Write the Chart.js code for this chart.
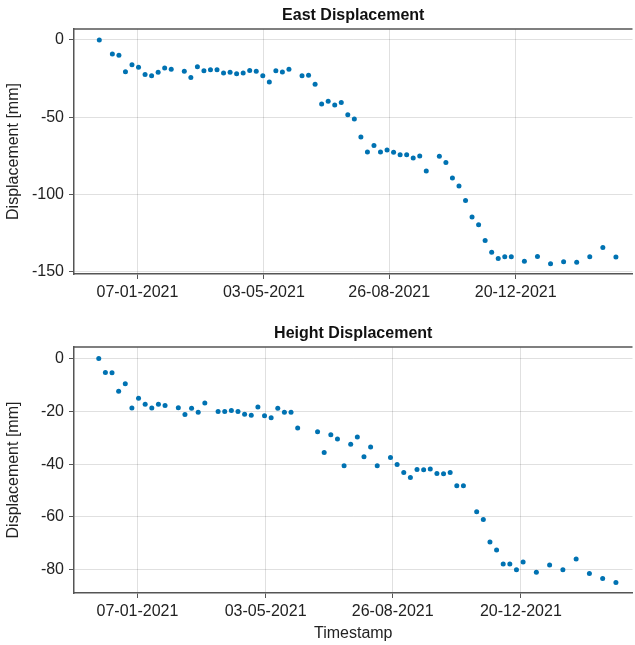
<!DOCTYPE html>
<html>
<head>
<meta charset="utf-8">
<script src="https://cdn.jsdelivr.net/npm/chart.js@4"></script>
<style>
  html, body { margin: 0; padding: 0; background: #fff; overflow: hidden; }
  .box { position: absolute; left: 0; width: 635px; }
</style>
</head>
<body>
<div class="box" style="top:0;height:320px"><canvas id="eastChart" width="635" height="320"></canvas></div>
<div class="box" style="top:320px;height:325px"><canvas id="heightChart" width="635" height="325"></canvas></div>
<script>
// Fechas de adquisición y desplazamientos (mm)
const eastDates = [
    '2020-12-03', '2020-12-15', '2020-12-21', '2020-12-27', '2021-01-02', '2021-01-08', '2021-01-14',
    '2021-01-20', '2021-01-26', '2021-02-01', '2021-02-07', '2021-02-19', '2021-02-25', '2021-03-03',
    '2021-03-09', '2021-03-15', '2021-03-21', '2021-03-27', '2021-04-02', '2021-04-08', '2021-04-14',
    '2021-04-20', '2021-04-26', '2021-05-02', '2021-05-08', '2021-05-14', '2021-05-20', '2021-05-26',
    '2021-06-07', '2021-06-13', '2021-06-19', '2021-06-25', '2021-07-01', '2021-07-07', '2021-07-13',
    '2021-07-19', '2021-07-25', '2021-07-31', '2021-08-06', '2021-08-12', '2021-08-18', '2021-08-24',
    '2021-08-30', '2021-09-05', '2021-09-11', '2021-09-17', '2021-09-23', '2021-09-29', '2021-10-11',
    '2021-10-17', '2021-10-23', '2021-10-29', '2021-11-04', '2021-11-10', '2021-11-16', '2021-11-22',
    '2021-11-28', '2021-12-04', '2021-12-10', '2021-12-16', '2021-12-28', '2022-01-09', '2022-01-21',
    '2022-02-02', '2022-02-14', '2022-02-26', '2022-03-10', '2022-03-22'
];
const eastValues = [
    0, -9.1, -9.9, -20.5, -16, -17.7, -22.4,
    -23.1, -20.9, -18.1, -19, -20.3, -24.2, -17.3,
    -19.9, -19.2, -19.2, -21.4, -20.9, -21.8, -21.4,
    -19.7, -20.3, -23.1, -27.2, -19.9, -20.7, -19,
    -23.1, -22.9, -28.7, -41.4, -39.7, -42, -40.4,
    -48.3, -51.1, -62.7, -72.4, -68.2, -72.4, -71.2,
    -72.7, -74.2, -74.2, -76.3, -75, -84.7, -75.3,
    -79.2, -89.3, -94.5, -103.8, -114.5, -119.5, -129.8,
    -137.4, -141.3, -140.2, -140.2, -143.2, -140, -144.7,
    -143.4, -143.8, -140.2, -134.2, -140.4
];

const heightDates = [
    '2020-12-03', '2020-12-09', '2020-12-15', '2020-12-21', '2020-12-27', '2021-01-02', '2021-01-08',
    '2021-01-14', '2021-01-20', '2021-01-26', '2021-02-01', '2021-02-13', '2021-02-19', '2021-02-25',
    '2021-03-03', '2021-03-09', '2021-03-21', '2021-03-27', '2021-04-02', '2021-04-08', '2021-04-14',
    '2021-04-20', '2021-04-26', '2021-05-02', '2021-05-08', '2021-05-14', '2021-05-20', '2021-05-26',
    '2021-06-01', '2021-06-19', '2021-06-25', '2021-07-01', '2021-07-07', '2021-07-13', '2021-07-19',
    '2021-07-25', '2021-07-31', '2021-08-06', '2021-08-12', '2021-08-24', '2021-08-30', '2021-09-05',
    '2021-09-11', '2021-09-17', '2021-09-23', '2021-09-29', '2021-10-05', '2021-10-11', '2021-10-17',
    '2021-10-23', '2021-10-29', '2021-11-10', '2021-11-16', '2021-11-22', '2021-11-28', '2021-12-04',
    '2021-12-10', '2021-12-16', '2021-12-22', '2022-01-03', '2022-01-15', '2022-01-27', '2022-02-08',
    '2022-02-20', '2022-03-04', '2022-03-16'
];
const heightValues = [
    0, -5.3, -5.4, -12.4, -9.5, -18.7, -15,
    -17.3, -18.7, -17.3, -17.8, -18.6, -21.2, -18.8,
    -20.3, -16.8, -20, -20, -19.7, -20, -21.1,
    -21.5, -18.3, -21.6, -22.4, -18.8, -20.3, -20.3,
    -26.3, -27.7, -35.6, -28.8, -30.5, -40.6, -32.4,
    -29.7, -37.2, -33.5, -40.6, -37.5, -40.1, -43.1,
    -45, -42, -42.1, -41.8, -43.5, -43.6, -43.1,
    -48.2, -48.2, -58, -61, -69.5, -72.5, -77.8,
    -77.8, -80, -77.1, -80.9, -78.2, -80, -75.9,
    -81.4, -83.3, -84.8
];

const tickDates = ['2021-01-07', '2021-05-03', '2021-08-26', '2021-12-20'];
const eastYTicks = [-150, -100, -50, 0];
const heightYTicks = [-80, -60, -40, -20, 0];

const BASE = Date.UTC(2021, 0, 7);
const DAY = 86400000;
const FONT = "'Liberation Sans', Arial, sans-serif";

function toDay(s) {
    const p = s.split('-').map(Number);
    return (Date.UTC(p[0], p[1] - 1, p[2]) - BASE) / DAY;
}

function formatDay(v) {
    const d = new Date(BASE + Math.round(v) * DAY);
    const dd = String(d.getUTCDate()).padStart(2, '0');
    const mm = String(d.getUTCMonth() + 1).padStart(2, '0');
    return dd + '-' + mm + '-' + d.getUTCFullYear();
}

// Título centrado sobre el área del gráfico + marco superior
const framePlugin = {
    id: 'frame',
    afterDraw(chart, args, opts) {
        const ctx = chart.ctx;
        const a = chart.chartArea;
        ctx.save();
        ctx.strokeStyle = '#555';
        ctx.lineWidth = 1.5;
        ctx.beginPath();
        ctx.moveTo(a.left, a.top);
        ctx.lineTo(a.right, a.top);
        ctx.stroke();
        ctx.fillStyle = '#111';
        ctx.font = 'bold 16px ' + FONT;
        ctx.textAlign = 'center';
        ctx.textBaseline = 'middle';
        ctx.fillText(opts.text, (a.left + a.right) / 2, a.top - 13);
        ctx.restore();
    }
};

function crearGrafico(id, dates, values, cfg) {
    const ctx = document.getElementById(id).getContext('2d');
    const data = dates.map((d, i) => ({ x: toDay(d), y: values[i] }));

    return new Chart(ctx, {
        type: 'scatter',
        data: {
            datasets: [{
                data: data,
                backgroundColor: 'rgb(0, 114, 178)',
                borderWidth: 0,
                pointRadius: 2.5,
                pointHoverRadius: 2.5
            }]
        },
        plugins: [framePlugin],
        options: {
            responsive: false,
            animation: false,
            devicePixelRatio: 1,
            layout: { padding: { top: cfg.padTop, left: 0, right: 0, bottom: 0 } },
            plugins: {
                legend: { display: false },
                tooltip: { enabled: false },
                frame: { text: cfg.title }
            },
            scales: {
                x: {
                    type: 'linear',
                    min: cfg.xMin,
                    max: cfg.xMax,
                    afterBuildTicks: s => { s.ticks = tickDates.map(t => ({ value: toDay(t) })); },
                    afterFit: s => { s.height = cfg.xHeight; },
                    ticks: {
                        callback: v => formatDay(v),
                        color: '#222',
                        font: { family: FONT, size: 16 },
                        padding: 4,
                        maxRotation: 0
                    },
                    grid: { color: 'rgba(0,0,0,0.12)', tickColor: '#555', tickLength: 5, lineWidth: 1 },
                    border: { color: '#555', width: 1.5 },
                    title: {
                        display: !!cfg.xTitle,
                        text: cfg.xTitle || '',
                        color: '#222',
                        font: { family: FONT, size: 16 },
                        padding: { top: 0, bottom: 2 }
                    }
                },
                y: {
                    min: cfg.yMin,
                    max: cfg.yMax,
                    afterBuildTicks: s => { s.ticks = cfg.yTicks.map(v => ({ value: v })); },
                    afterFit: s => { s.width = 74; },
                    ticks: {
                        color: '#222',
                        font: { family: FONT, size: 16 },
                        padding: 5
                    },
                    grid: { color: 'rgba(0,0,0,0.12)', tickColor: '#555', tickLength: 5, lineWidth: 1 },
                    border: { color: '#555', width: 1.5 },
                    title: {
                        display: true,
                        text: 'Displacement [mm]',
                        color: '#222',
                        font: { family: FONT, size: 16 },
                        padding: { top: 4, bottom: 4 }
                    }
                }
            }
        }
    });
}

crearGrafico('eastChart', eastDates, eastValues, {
    title: 'East Displacement',
    padTop: 29,
    xHeight: 46,
    xMin: -58.2, xMax: 454.2,
    yMin: -151.4, yMax: 7.1,
    yTicks: eastYTicks
});

crearGrafico('heightChart', heightDates, heightValues, {
    title: 'Height Displacement',
    padTop: 27,
    xHeight: 52,
    xMin: -57.4, xMax: 448,
    yMin: -88.8, yMax: 4.4,
    yTicks: heightYTicks,
    xTitle: 'Timestamp'
});
</script>
</body>
</html>
